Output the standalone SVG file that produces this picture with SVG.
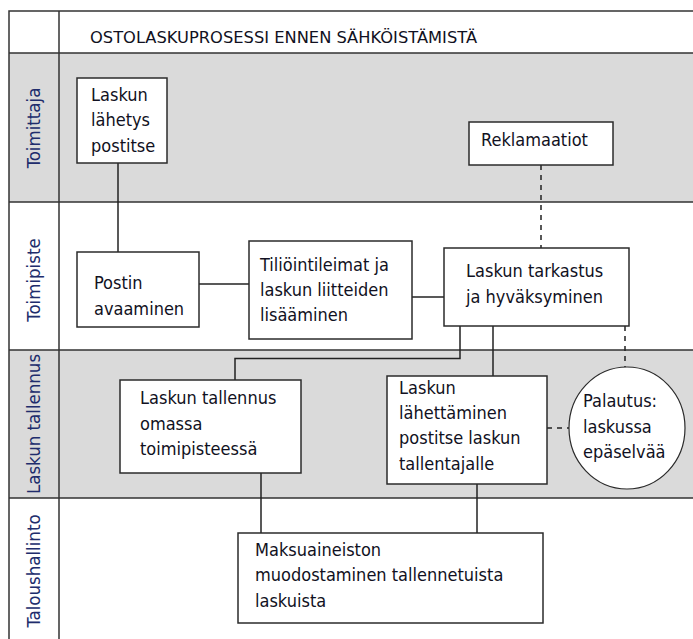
<svg xmlns="http://www.w3.org/2000/svg" width="693" height="639" viewBox="0 0 693 639">
  <style>
    .band-grey { fill: #dadada; }
    .band-white { fill: #ffffff; }
    .grid { stroke: #333333; stroke-width: 1.5; fill: none; }
    .box { fill: #ffffff; stroke: #2b2b2b; stroke-width: 1.5; }
    .oval { fill: #ffffff; stroke: #2b2b2b; stroke-width: 1.2; }
    .label { font-family: "DejaVu Sans Condensed", "DejaVu Sans", sans-serif; font-stretch: condensed; font-size: 18px; fill: #111122; }
    .lane { font-family: "DejaVu Sans Condensed", "DejaVu Sans", sans-serif; font-stretch: condensed; font-size: 18.5px; fill: #202c6c; text-anchor: middle; }
    .title { font-family: "DejaVu Sans", sans-serif; font-size: 16.3px; fill: #111122; }
    .link { stroke: #222222; stroke-width: 1.5; fill: none; }
    .dash { stroke: #222222; stroke-width: 1.5; fill: none; stroke-dasharray: 5 5; }
  </style>

  <!-- swimlane backgrounds -->
  <g id="lanes">
    <rect class="band-white" x="0" y="0" width="693" height="53"/>
    <rect class="band-grey" x="9" y="53" width="684" height="149"/>
    <rect class="band-white" x="9" y="202" width="684" height="148"/>
    <rect class="band-grey" x="9" y="350" width="684" height="148"/>
    <rect class="band-white" x="9" y="498" width="684" height="141"/>
    <path class="grid" d="M693 11 H9 V639 M59 11 V639 M9 53 H693 M9 202 H693 M9 350 H693 M9 498 H693"/>
    <text class="title" x="90" y="43">OSTOLASKUPROSESSI ENNEN SÄHKÖISTÄMISTÄ</text>
    <text class="lane" transform="translate(40 128) rotate(-90)">Toimittaja</text>
    <text class="lane" transform="translate(40 280) rotate(-90)">Toimipiste</text>
    <text class="lane" transform="translate(40 424) rotate(-90)">Laskun tallennus</text>
    <text class="lane" transform="translate(40 571) rotate(-90)">Taloushallinto</text>
  </g>

  <!-- connectors -->
  <g id="connectors">
    <path class="link" d="M118 163 V252"/>
    <path class="link" d="M199 284 H249"/>
    <path class="link" d="M412 297 H444"/>
    <path class="link" d="M460 326 V358.5 H235 V380"/>
    <path class="link" d="M493 326 V376"/>
    <path class="link" d="M261 473 V533"/>
    <path class="link" d="M477 484 V533"/>
    <path class="dash" d="M541 165 V248"/>
    <path class="dash" d="M625 326 V367"/>
    <path class="dash" d="M547 428 H569"/>
  </g>

  <g id="lahetys">
    <rect class="box" x="77" y="78" width="90" height="85"/>
    <text class="label" x="91"><tspan x="91" y="101">Laskun</tspan><tspan x="91" y="126">lähetys</tspan><tspan x="91" y="152">postitse</tspan></text>
  </g>

  <g id="reklamaatiot">
    <rect class="box" x="469" y="122" width="144" height="43"/>
    <text class="label" x="481" y="146">Reklamaatiot</text>
  </g>

  <g id="postin-avaaminen">
    <rect class="box" x="77" y="252" width="122" height="75"/>
    <text class="label"><tspan x="94" y="289">Postin</tspan><tspan x="94" y="315">avaaminen</tspan></text>
  </g>

  <g id="tilioint">
    <rect class="box" x="249" y="241" width="163" height="98"/>
    <text class="label"><tspan x="260" y="271">Tiliöintileimat ja</tspan><tspan x="260" y="296">laskun liitteiden</tspan><tspan x="260" y="321">lisääminen</tspan></text>
  </g>

  <g id="tarkastus">
    <rect class="box" x="444" y="248" width="185" height="78"/>
    <text class="label"><tspan x="466" y="277">Laskun tarkastus</tspan><tspan x="466" y="303">ja hyväksyminen</tspan></text>
  </g>

  <g id="tallennus">
    <rect class="box" x="120" y="380" width="181" height="93"/>
    <text class="label"><tspan x="140" y="404">Laskun tallennus</tspan><tspan x="140" y="430">omassa</tspan><tspan x="140" y="455">toimipisteessä</tspan></text>
  </g>

  <g id="lahettaminen">
    <rect class="box" x="387" y="376" width="160" height="108"/>
    <text class="label"><tspan x="399" y="394">Laskun</tspan><tspan x="399" y="419">lähettäminen</tspan><tspan x="399" y="444">postitse laskun</tspan><tspan x="399" y="470">tallentajalle</tspan></text>
  </g>

  <g id="palautus">
    <ellipse class="oval" cx="627" cy="428" rx="58" ry="61"/>
    <text class="label"><tspan x="583" y="407">Palautus:</tspan><tspan x="583" y="433">laskussa</tspan><tspan x="583" y="458">epäselvää</tspan></text>
  </g>

  <g id="maksuaineisto">
    <rect class="box" x="238" y="533" width="305" height="90"/>
    <text class="label"><tspan x="255" y="556">Maksuaineiston</tspan><tspan x="255" y="581">muodostaminen tallennetuista</tspan><tspan x="255" y="607">laskuista</tspan></text>
  </g>
</svg>
